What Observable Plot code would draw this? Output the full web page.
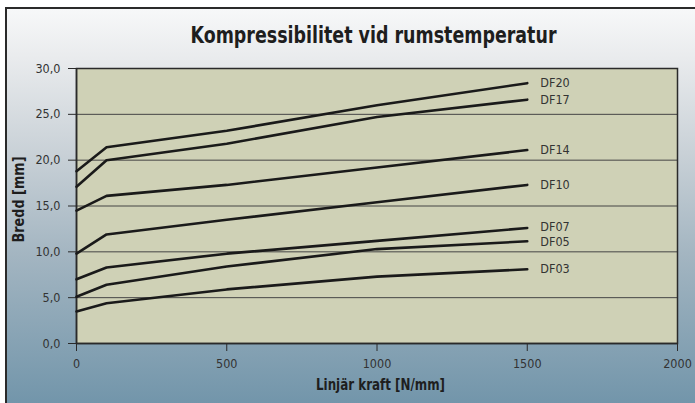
<!DOCTYPE html>
<html>
<head>
<meta charset="utf-8">
<script src="https://cdn.jsdelivr.net/npm/d3@7"></script>
<script src="https://cdn.jsdelivr.net/npm/@observablehq/plot@0.6"></script>
<style>
  html, body { margin: 0; padding: 0; background: #ffffff; }
  #page { position: relative; width: 695px; height: 403px; overflow: hidden; }
  #bg {
    position: absolute; left: 5px; top: 7px; width: 700px; height: 410px;
    border-top: 2px solid #2a2a2a; border-left: 2px solid #2a2a2a;
    background: linear-gradient(to bottom, #f7f8f9 0%, #e9ebed 12%, #c9d1d7 35%, #a3b5c1 60%, #6d92a8 100%);
  }
  #chart { position: absolute; left: 0; top: 0; }
  #chart svg { background: none !important; }
</style>
</head>
<body>
<div id="page"><div id="bg"></div><div id="chart"></div></div>
<script>
const force = [0, 100, 500, 1000, 1500];
const seriesNames = ["DF20", "DF17", "DF14", "DF10", "DF07", "DF05", "DF03"];
const DF20 = [18.8, 21.4, 23.2, 26.0, 28.4];
const DF17 = [17.1, 20.0, 21.8, 24.7, 26.6];
const DF14 = [14.5, 16.1, 17.3, 19.2, 21.1];
const DF10 = [9.8, 11.9, 13.5, 15.4, 17.3];
const DF07 = [7.0, 8.3, 9.8, 11.2, 12.6];
const DF05 = [5.1, 6.4, 8.4, 10.3, 11.15];
const DF03 = [3.5, 4.4, 5.9, 7.3, 8.1];
const seriesValues = [DF20, DF17, DF14, DF10, DF07, DF05, DF03];
const yTicks = [0, 5, 10, 15, 20, 25, 30];
const xTicks = [0, 500, 1000, 1500, 2000];
const gridY = [5, 10, 15, 20, 25];
const title = "Kompressibilitet vid rumstemperatur";
const xLabel = "Linjär kraft [N/mm]";
const yLabel = "Bredd [mm]";

const rows = [];
seriesNames.forEach((name, i) => {
  force.forEach((f, j) => rows.push({series: name, force: f, width: seriesValues[i][j]}));
});
const ends = seriesNames.map((name, i) => ({series: name, force: force[force.length - 1], width: seriesValues[i][force.length - 1]}));

const font = "'DejaVu Sans Condensed', 'Liberation Sans Narrow', sans-serif";
const yFmt = d => d.toFixed(1).replace(".", ",");
const xFmt = d => String(d);

const chart = Plot.plot({
  width: 695,
  height: 403,
  marginLeft: 76,
  marginRight: 18,
  marginTop: 68,
  marginBottom: 60,
  style: {fontFamily: font, fontSize: "12.5px", color: "#333", background: "none", overflow: "visible"},
  x: {domain: [0, 2000], label: null},
  y: {domain: [0, 30], label: null},
  marks: [
    Plot.frame({fill: "#cfd1b6", stroke: null}),
    Plot.ruleY(gridY, {stroke: "#454545", strokeWidth: 1}),
    Plot.frame({stroke: "#2a2a2a", strokeWidth: 1.5}),
    Plot.axisX({ticks: xTicks, tickSize: 8, tickPadding: 8, stroke: "#2a2a2a", fill: "#333", fontSize: 12.5, label: null, tickFormat: xFmt}),
    Plot.axisY({ticks: yTicks, tickSize: 8, tickPadding: 8, stroke: "#2a2a2a", fill: "#333", fontSize: 12.5, label: null, tickFormat: yFmt}),
    Plot.ruleX([0], {stroke: "#2a2a2a", strokeWidth: 1.5}),
    Plot.ruleY([0], {stroke: "#2a2a2a", strokeWidth: 1.5}),
    Plot.line(rows, {x: "force", y: "width", z: "series", stroke: "#1a1a1a", strokeWidth: 2.6, strokeLinejoin: "miter"}),
    Plot.text(ends, {filter: d => d.series !== "DF07" && d.series !== "DF05", x: "force", y: "width", text: "series", dx: 13, textAnchor: "start", fill: "#333", fontSize: 12.5}),
    Plot.text(ends, {filter: d => d.series === "DF07", x: "force", y: "width", text: "series", dx: 13, dy: -1, textAnchor: "start", fill: "#333", fontSize: 12.5}),
    Plot.text(ends, {filter: d => d.series === "DF05", x: "force", y: "width", text: "series", dx: 13, dy: 1, textAnchor: "start", fill: "#333", fontSize: 12.5}),
    Plot.text([title], {frameAnchor: "top", lineAnchor: "middle", textAnchor: "middle", dx: -3.5, dy: -33, fontSize: 23, fontWeight: "bold", fill: "#1e1e1e"}),
    Plot.text([xLabel], {frameAnchor: "bottom", lineAnchor: "middle", textAnchor: "middle", dx: 3.5, dy: 42, fontSize: 15, fontWeight: "bold", fill: "#1e1e1e"}),
    Plot.text([yLabel], {frameAnchor: "left", lineAnchor: "middle", textAnchor: "middle", dx: -57, dy: -6.5, rotate: -90, fontSize: 15, fontWeight: "bold", fill: "#1e1e1e"})
  ]
});
const fit = {[title]: 366, [xLabel]: 129, [yLabel]: 86};
chart.querySelectorAll("text").forEach(t => {
  const s = t.textContent;
  if (fit[s]) {
    t.setAttribute("textLength", fit[s]);
    t.setAttribute("lengthAdjust", "spacingAndGlyphs");
  }
});
document.getElementById("chart").appendChild(chart);
</script>
</body>
</html>
